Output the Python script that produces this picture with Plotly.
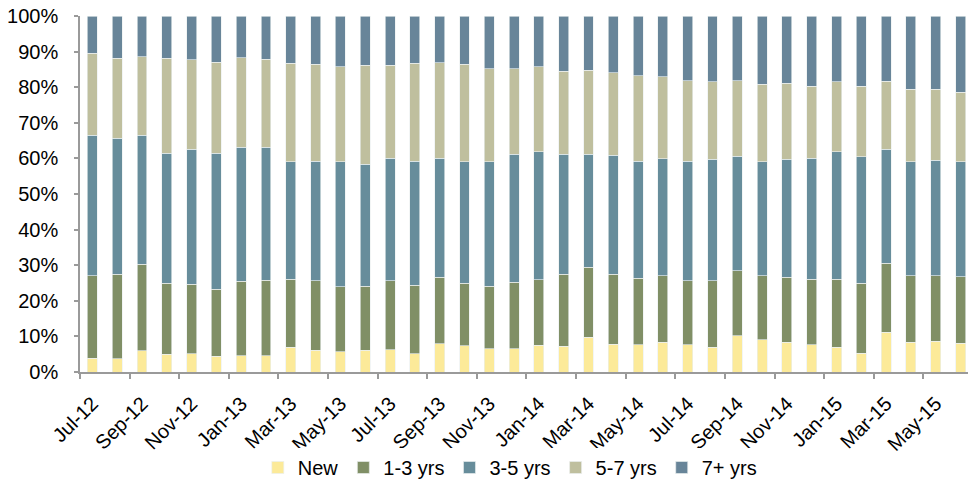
import plotly.graph_objects as go

# Monthly categories, Jul-12 .. Jun-15
months = ["Jul-12", "Aug-12", "Sep-12", "Oct-12", "Nov-12", "Dec-12",
          "Jan-13", "Feb-13", "Mar-13", "Apr-13", "May-13", "Jun-13",
          "Jul-13", "Aug-13", "Sep-13", "Oct-13", "Nov-13", "Dec-13",
          "Jan-14", "Feb-14", "Mar-14", "Apr-14", "May-14", "Jun-14",
          "Jul-14", "Aug-14", "Sep-14", "Oct-14", "Nov-14", "Dec-14",
          "Jan-15", "Feb-15", "Mar-15", "Apr-15", "May-15", "Jun-15"]

# Share of each age bucket (%)
new = [3.9, 3.7, 6.0, 5.0, 5.1, 4.4, 4.5, 4.5, 6.9, 6.1,
       5.7, 6.1, 6.3, 5.1, 7.9, 7.4, 6.5, 6.5, 7.5, 7.2,
       9.8, 7.8, 7.7, 8.3, 7.6, 6.9, 10.2, 9.0, 8.4, 7.6,
       7.0, 5.2, 11.2, 8.3, 8.6, 8.1]
yrs_1_3 = [23.2, 23.7, 24.2, 19.9, 19.5, 18.8, 21.0, 21.3, 19.2, 19.6,
           18.2, 18.0, 19.4, 19.2, 18.7, 17.5, 17.6, 18.7, 18.4, 20.3,
           19.6, 19.7, 18.6, 18.7, 18.0, 18.8, 18.3, 18.0, 18.2, 18.4,
           19.0, 19.7, 19.3, 18.8, 18.4, 18.7]
yrs_3_5 = [39.4, 38.3, 36.3, 36.6, 38.0, 38.3, 37.7, 37.4, 32.9, 33.5,
           35.1, 34.3, 34.4, 34.9, 33.5, 34.1, 34.9, 36.0, 35.9, 33.7,
           31.8, 33.4, 32.9, 32.9, 33.6, 34.1, 32.1, 32.0, 33.2, 34.1,
           35.8, 35.5, 32.1, 31.9, 32.5, 32.2]
yrs_5_7 = [23.1, 22.4, 22.0, 26.6, 25.1, 25.5, 25.1, 24.7, 27.7, 27.3,
           26.7, 27.7, 26.1, 27.5, 26.7, 27.4, 26.2, 24.0, 23.9, 23.3,
           23.6, 23.1, 24.0, 23.0, 22.6, 21.7, 21.2, 21.9, 21.3, 20.2,
           19.7, 19.8, 19.1, 20.4, 19.9, 19.6]
yrs_7_plus = [10.4, 11.9, 11.5, 11.9, 12.3, 13.0, 11.7, 12.1, 13.3, 13.5,
              14.3, 13.9, 13.8, 13.3, 13.2, 13.6, 14.8, 14.8, 14.3, 15.5,
              15.2, 16.0, 16.8, 17.1, 18.2, 18.5, 18.2, 19.1, 18.9, 19.7,
              18.5, 19.8, 18.3, 20.6, 20.6, 21.4]

series = [
    ("New", new, "#FCEA99"),
    ("1-3 yrs", yrs_1_3, "#808F66"),
    ("3-5 yrs", yrs_3_5, "#678D9B"),
    ("5-7 yrs", yrs_5_7, "#BFBF9E"),
    ("7+ yrs", yrs_7_plus, "#688599"),
]

FONT = "Liberation Sans, Arial, sans-serif"
AXIS_GREY = "#9A9A9A"
FS = 20

fig = go.Figure()
for name, vals, color in series:
    fig.add_trace(go.Bar(
        x=months, y=vals, name=name,
        marker=dict(color=color, line=dict(color="rgba(235,240,240,0.8)", width=0.8)),
    ))

fig.update_layout(
    barmode="stack",
    bargap=0.6,
    width=968, height=487,
    margin=dict(l=80, r=0, t=16, b=114),
    paper_bgcolor="white", plot_bgcolor="white",
    font=dict(family=FONT, size=FS, color="#000000"),
    showlegend=True,
    legend=dict(
        orientation="h", traceorder="normal",
        x=0.484, xanchor="center", y=-0.268, yanchor="middle",
        font=dict(family=FONT, size=FS, color="#000000"),
        itemwidth=30, tracegroupgap=0,
    ),
)

fig.update_xaxes(
    type="category",
    range=[-0.5, 35.3],
    dtick=2, tick0=0,
    tickson="boundaries",
    tickangle=-45,
    ticks="outside", ticklen=5, tickwidth=1.5, tickcolor=AXIS_GREY,
    showline=True, linecolor=AXIS_GREY, linewidth=2,
    showgrid=False, zeroline=False,
    ticklabelstandoff=10,
    tickfont=dict(family=FONT, size=FS, color="#000000"),
)

fig.update_yaxes(
    range=[0, 100],
    tickmode="linear", tick0=0, dtick=10,
    ticksuffix="%", showticksuffix="all",
    ticks="outside", ticklen=4, tickwidth=1.5, tickcolor=AXIS_GREY,
    showline=True, linecolor=AXIS_GREY, linewidth=1.5,
    showgrid=False, zeroline=False,
    ticklabelstandoff=12,
    tickfont=dict(family=FONT, size=FS, color="#000000"),
)

fig.write_html("out.html")
